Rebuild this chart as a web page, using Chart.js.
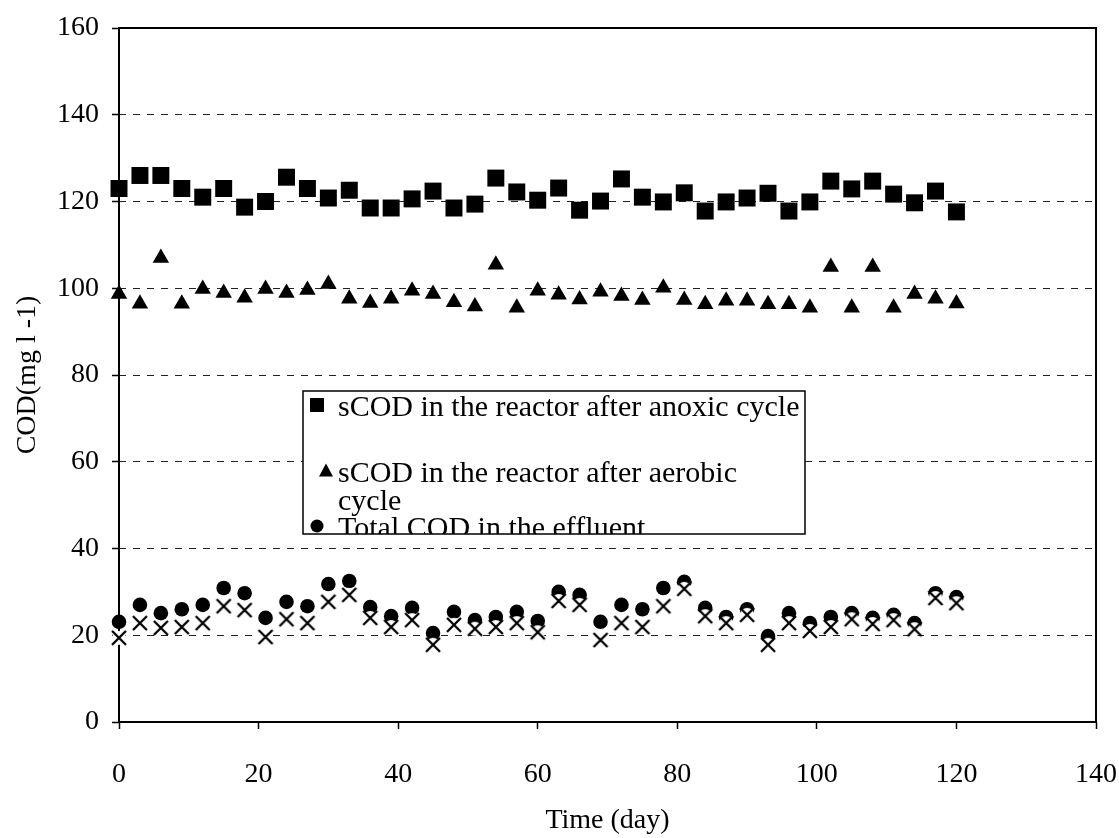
<!DOCTYPE html>
<html>
<head>
<meta charset="utf-8">
<title>COD over time</title>
<script src="https://cdn.jsdelivr.net/npm/chart.js@4.4.1/dist/chart.umd.min.js"></script>
<style>
  html, body { margin: 0; padding: 0; background: #ffffff; }
  #wrap { width: 1119px; height: 838px; position: relative; }
</style>
</head>
<body>
<div id="wrap"><canvas id="chart" width="1119" height="838"></canvas></div>
<script>
// Sampling days (every third day)
const days = [0, 3, 6, 9, 12, 15, 18, 21, 24, 27, 30, 33, 36, 39, 42, 45, 48, 51, 54, 57,
              60, 63, 66, 69, 72, 75, 78, 81, 84, 87, 90, 93, 96, 99, 102, 105, 108, 111, 114, 117, 120];

// sCOD in the reactor after the anoxic cycle (mg/l)
const anoxicSCOD = [123, 126, 126, 123, 121, 123, 118.7, 120, 125.6, 123,
                    120.8, 122.6, 118.5, 118.5, 120.6, 122.4, 118.5, 119.4, 125.4, 122.2,
                    120.3, 123.1, 118, 120.1, 125.2, 121, 119.9, 122, 117.8, 119.9,
                    120.8, 121.9, 117.8, 119.9, 124.7, 122.9, 124.7, 121.7, 119.7, 122.4,
                    117.6];

// sCOD in the reactor after the aerobic cycle (mg/l)
const aerobicSCOD = [98.7, 96.4, 107, 96.4, 99.8, 98.9, 97.8, 99.8, 98.9, 99.6,
                     101, 97.6, 96.6, 97.6, 99.4, 98.7, 96.8, 95.8, 105.4, 95.5,
                     99.4, 98.5, 97.4, 99.2, 98.2, 97.3, 100.1, 97.3, 96.3, 97.1,
                     97.1, 96.3, 96.3, 95.5, 104.9, 95.5, 104.9, 95.5, 98.7, 97.6,
                     96.5];

// Total COD in the effluent (mg/l)
const effluentTotalCOD = [23.1, 27, 25.1, 26, 27, 30.9, 29.7, 24, 27.7, 26.7,
                          31.8, 32.5, 26.5, 24.4, 26.3, 20.5, 25.4, 23.5, 24.2, 25.4,
                          23.3, 30, 29.3, 23.1, 27, 26, 30.9, 32.3, 26.3, 24.2,
                          26, 19.8, 25.1, 22.8, 24.2, 25.1, 24, 24.7, 22.8, 29.7,
                          28.8];

// Soluble COD in the effluent (mg/l)
const effluentSCOD = [19.4, 22.8, 21.7, 21.9, 22.8, 26.7, 25.8, 19.6, 23.7, 22.8,
                      27.7, 29.3, 24, 21.9, 23.5, 17.8, 22.4, 21.5, 21.9, 22.8,
                      20.7, 27.9, 27, 18.9, 22.8, 21.9, 26.7, 30.7, 24.4, 22.8,
                      24.7, 17.8, 22.8, 21, 21.9, 23.7, 22.6, 23.5, 21.4, 28.6,
                      27.4];

const xTicks = [0, 20, 40, 60, 80, 100, 120, 140];
const yTicks = [0, 20, 40, 60, 80, 100, 120, 140, 160];

const seriesLabels = [
  'sCOD in the reactor after anoxic cycle',
  'sCOD in the reactor after aerobic cycle',
  'Total COD in the effluent',
  'Soluble COD in the effluent'
];

const SERIF = "'Liberation Serif', 'Times New Roman', serif";

function pairs(ys) {
  return days.map((d, i) => ({ x: d, y: ys[i] }));
}

// "x" marker drawn on a small white disc
function makeCrossMarker() {
  const c = document.createElement('canvas');
  c.width = 18; c.height = 18;
  const g = c.getContext('2d');
  g.fillStyle = '#ffffff';
  g.beginPath(); g.arc(9, 9, 7, 0, Math.PI * 2); g.fill();
  g.strokeStyle = '#000000';
  g.lineWidth = 2.3;
  g.lineCap = 'butt';
  g.beginPath();
  g.moveTo(2, 2); g.lineTo(16, 16);
  g.moveTo(16, 2); g.lineTo(2, 16);
  g.stroke();
  return c;
}

// Solid frame around the plotting area
const plotFrame = {
  id: 'plotFrame',
  beforeDatasetsDraw(chart) {
    const { ctx, chartArea: a } = chart;
    ctx.save();
    ctx.strokeStyle = '#000';
    ctx.lineWidth = 2;
    ctx.strokeRect(a.left, a.top, a.right - a.left, a.bottom - a.top);
    ctx.restore();
  }
};

// Boxed legend placed inside the plotting area (text clipped at the box edge)
const boxedLegend = {
  id: 'boxedLegend',
  afterDraw(chart) {
    const { ctx } = chart;
    const L = 303, T = 391, R = 805, B = 534;
    const textX = 338;
    const baselines = [416, 482, 537];
    const lineGap = 28;
    const markers = ['rect', 'triangle', 'circle'];
    const markerPos = [[317, 405], [326, 471], [317, 526]];

    ctx.save();
    ctx.fillStyle = '#fff';
    ctx.fillRect(L, T, R - L, B - T);
    ctx.beginPath();
    ctx.rect(L, T, R - L, B - T);
    ctx.clip();

    ctx.font = '30px ' + SERIF;
    ctx.fillStyle = '#000';
    ctx.textAlign = 'left';
    ctx.textBaseline = 'alphabetic';

    const shown = chart.data.datasets.filter(ds => ds.inLegend);
    shown.forEach((ds, i) => {
      // wrap the label to the box width
      const words = ds.label.split(' ');
      const lines = [];
      let cur = '';
      words.forEach(w => {
        const trial = cur ? cur + ' ' + w : w;
        if (ctx.measureText(trial).width > R - textX - 2 && cur) {
          lines.push(cur); cur = w;
        } else cur = trial;
      });
      lines.push(cur);
      lines.forEach((ln, k) => ctx.fillText(ln, textX, baselines[i] + k * lineGap));

      const [mx, my] = markerPos[i];
      ctx.beginPath();
      if (markers[i] === 'rect') {
        ctx.rect(mx - 7, my - 7, 14, 14);
      } else if (markers[i] === 'triangle') {
        ctx.moveTo(mx, my - 7.5);
        ctx.lineTo(mx + 7, my + 5.5);
        ctx.lineTo(mx - 7, my + 5.5);
        ctx.closePath();
      } else {
        ctx.arc(mx, my, 6.5, 0, Math.PI * 2);
      }
      ctx.fill();
    });
    ctx.restore();

    ctx.save();
    ctx.strokeStyle = '#000';
    ctx.lineWidth = 1.5;
    ctx.strokeRect(L, T, R - L, B - T);
    ctx.restore();
  }
};

const tickFont = { family: SERIF, size: 28 };

new Chart(document.getElementById('chart'), {
  type: 'scatter',
  data: {
    datasets: [
      {
        label: seriesLabels[0], inLegend: true, order: 1,
        data: pairs(anoxicSCOD),
        pointStyle: 'rect', pointRadius: 12, pointHoverRadius: 12,
        backgroundColor: '#000', borderColor: '#000', borderWidth: 0, clip: false
      },
      {
        label: seriesLabels[1], inLegend: true, order: 2,
        data: pairs(aerobicSCOD),
        pointStyle: 'triangle', pointRadius: 9.5, pointHoverRadius: 9.5,
        backgroundColor: '#000', borderColor: '#000', borderWidth: 0, clip: false
      },
      {
        label: seriesLabels[2], inLegend: true, order: 3,
        data: pairs(effluentTotalCOD),
        pointStyle: 'circle', pointRadius: 7.3, pointHoverRadius: 7.3,
        backgroundColor: '#000', borderColor: '#000', borderWidth: 0, clip: false
      },
      {
        label: seriesLabels[3], inLegend: false, order: 0,
        data: pairs(effluentSCOD),
        pointStyle: makeCrossMarker(),
        backgroundColor: '#000', borderColor: '#000', borderWidth: 0, clip: false
      }
    ]
  },
  options: {
    responsive: false,
    animation: false,
    devicePixelRatio: 1,
    events: [],
    layout: { padding: { top: 28, left: 0, right: 23, bottom: 0 }, autoPadding: false },
    plugins: {
      legend: { display: false },
      tooltip: { enabled: false }
    },
    scales: {
      x: {
        type: 'linear', min: 0, max: 140,
        afterBuildTicks: s => { s.ticks = xTicks.map(v => ({ value: v })); },
        ticks: { font: tickFont, color: '#000', padding: 29, maxRotation: 0, autoSkip: false },
        grid: { drawOnChartArea: false, drawTicks: true, tickLength: 7, tickColor: '#000', tickWidth: 1.5 },
        border: { display: false },
        title: { display: true, text: 'Time (day)', font: tickFont, color: '#000', padding: { top: 0, bottom: 1 } },
        afterFit: s => { s.height = 116; s.paddingLeft = 0; s.paddingRight = 0; }
      },
      y: {
        type: 'linear', min: 0, max: 160,
        afterBuildTicks: s => { s.ticks = yTicks.map(v => ({ value: v })); },
        ticks: { font: tickFont, color: '#000', padding: 13, autoSkip: false },
        grid: { drawOnChartArea: true, drawTicks: true, tickLength: 7, color: '#222', lineWidth: 1,
                tickColor: '#000', tickWidth: 1.5 },
        border: { display: false, dash: [7, 7] },
        title: { display: true, text: 'COD(mg l -1)', font: tickFont, color: '#000', padding: { top: 11, bottom: 0 } },
        afterFit: s => { s.width = 119; s.paddingTop = 0; s.paddingBottom = 0; }
      }
    }
  },
  plugins: [plotFrame, boxedLegend]
});
</script>
</body>
</html>
